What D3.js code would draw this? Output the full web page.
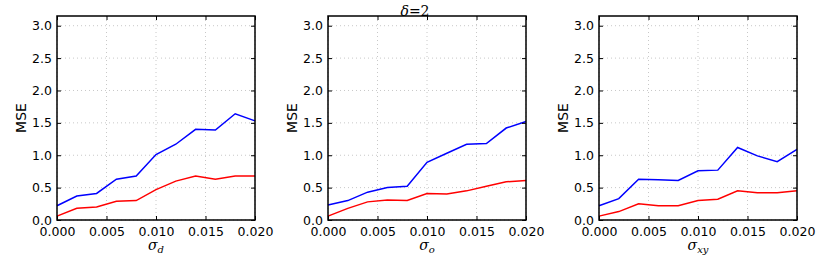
<!DOCTYPE html>
<html>
<head>
<meta charset="utf-8">
<script src="https://cdn.jsdelivr.net/npm/d3@7"></script>
<style>
  body { margin: 0; background: #fff; }
  svg { display: block; }
  .tick text { font-family: "DejaVu Sans", sans-serif; font-size: 12.5px; fill: #000; }
</style>
</head>
<body>
<div id="chart"></div>
<script>
// --- Data ---
const sigma = [0, 0.002, 0.004, 0.006, 0.008, 0.010, 0.012, 0.014, 0.016, 0.018, 0.020];

const blueD  = [0.22, 0.37, 0.41, 0.63, 0.68, 1.01, 1.17, 1.40, 1.39, 1.64, 1.53];
const redD   = [0.06, 0.18, 0.20, 0.29, 0.30, 0.47, 0.60, 0.68, 0.63, 0.68, 0.68];

const blueO  = [0.23, 0.30, 0.43, 0.50, 0.52, 0.89, 1.03, 1.17, 1.18, 1.42, 1.52];
const redO   = [0.06, 0.18, 0.28, 0.31, 0.30, 0.41, 0.40, 0.45, 0.52, 0.59, 0.61];

const blueXY = [0.22, 0.33, 0.63, 0.62, 0.61, 0.76, 0.77, 1.12, 0.99, 0.90, 1.09];
const redXY  = [0.06, 0.13, 0.25, 0.22, 0.22, 0.30, 0.32, 0.45, 0.42, 0.42, 0.45];

const xTicks = [0, 0.005, 0.010, 0.015, 0.020];
const yTicks = [0, 0.5, 1.0, 1.5, 2.0, 2.5, 3.0];

const panels = [
    { left: 57,  sub: "d",  blue: blueD,  red: redD },
    { left: 328, sub: "o",  blue: blueO,  red: redO },
    { left: 599, sub: "xy", blue: blueXY, red: redXY }
];

const width = 830, height = 277;
const pw = 198, plotTop = 16, plotBottom = 220;

const svg = d3.select("#chart").append("svg")
    .attr("width", width)
    .attr("height", height);

const y = d3.scaleLinear().domain([0, 3.15]).range([plotBottom, plotTop]);

panels.forEach(p => {
    const x = d3.scaleLinear().domain([0, 0.02]).range([p.left, p.left + pw]);
    const g = svg.append("g");

    // grid
    g.append("g").selectAll("line").data(xTicks).join("line")
        .attr("x1", d => x(d)).attr("x2", d => x(d))
        .attr("y1", plotTop).attr("y2", plotBottom)
        .attr("stroke", "#c8c8c8").attr("stroke-dasharray", "1,3");
    g.append("g").selectAll("line").data(yTicks).join("line")
        .attr("x1", p.left).attr("x2", p.left + pw)
        .attr("y1", d => y(d)).attr("y2", d => y(d))
        .attr("stroke", "#c8c8c8").attr("stroke-dasharray", "1,3");

    // lines
    const line = d3.line().x((d, i) => x(sigma[i])).y(d => y(d));
    g.append("path").datum(p.blue).attr("d", line)
        .attr("fill", "none").attr("stroke", "#0000ff").attr("stroke-width", 1.5);
    g.append("path").datum(p.red).attr("d", line)
        .attr("fill", "none").attr("stroke", "#ff0000").attr("stroke-width", 1.5);

    // axes with inward ticks
    const fmtX = d3.format(".3f"), fmtY = d3.format(".1f");
    g.append("g").attr("transform", `translate(0,${plotBottom})`)
        .call(d3.axisBottom(x).tickValues(xTicks).tickFormat(fmtX).tickSizeInner(-4).tickSizeOuter(0).tickPadding(7))
        .call(a => a.select(".domain").remove());
    g.append("g").attr("transform", `translate(0,${plotTop})`)
        .call(d3.axisTop(x).tickValues(xTicks).tickFormat("").tickSizeInner(-4).tickSizeOuter(0))
        .call(a => a.select(".domain").remove());
    g.append("g").attr("transform", `translate(${p.left},0)`)
        .call(d3.axisLeft(y).tickValues(yTicks).tickFormat(fmtY).tickSizeInner(-4).tickSizeOuter(0).tickPadding(5))
        .call(a => a.select(".domain").remove());
    g.append("g").attr("transform", `translate(${p.left + pw},0)`)
        .call(d3.axisRight(y).tickValues(yTicks).tickFormat("").tickSizeInner(-4).tickSizeOuter(0))
        .call(a => a.select(".domain").remove());

    // frame
    g.append("rect")
        .attr("x", p.left).attr("y", plotTop)
        .attr("width", pw).attr("height", plotBottom - plotTop)
        .attr("fill", "none").attr("stroke", "#000").attr("stroke-width", 1.5);

    // labels
    const xl = g.append("text")
        .attr("x", p.left + pw / 2).attr("y", 250)
        .attr("text-anchor", "middle")
        .attr("font-family", "DejaVu Serif, serif").attr("font-size", 14)
        .attr("font-style", "italic");
    xl.append("tspan").text("σ");
    xl.append("tspan").attr("font-size", 10).attr("dy", 3).text(p.sub);

    g.append("text")
        .attr("transform", `translate(${p.left - 31},${(plotTop + plotBottom) / 2}) rotate(-90)`)
        .attr("text-anchor", "middle")
        .attr("font-family", "DejaVu Sans, sans-serif").attr("font-size", 14)
        .text("MSE");
});

// title
const t = svg.append("text")
    .attr("x", 415).attr("y", 16)
    .attr("text-anchor", "middle")
    .attr("font-family", "DejaVu Serif, serif").attr("font-size", 14);
t.append("tspan").attr("font-style", "italic").text("δ");
t.append("tspan").text("=2");
</script>
</body>
</html>
